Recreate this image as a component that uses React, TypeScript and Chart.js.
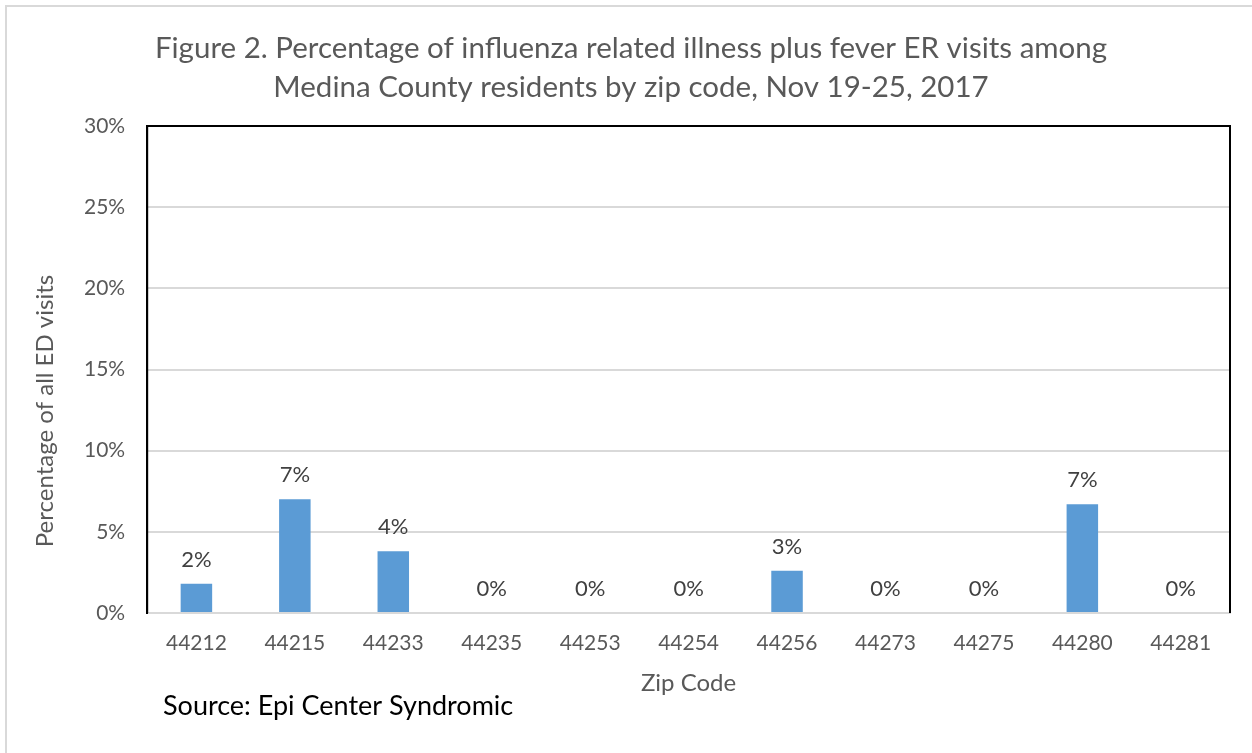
import React, { useEffect, useRef } from "react";
import { Chart, registerables } from "chart.js";

Chart.register(...registerables);

const zipCodes = ["44212", "44215", "44233", "44235", "44253", "44254", "44256", "44273", "44275", "44280", "44281"];
const percentValues = [1.8, 7.0, 3.8, 0, 0, 0, 2.6, 0, 0, 6.7, 0];
const valueLabels = ["2%", "7%", "4%", "0%", "0%", "0%", "3%", "0%", "0%", "7%", "0%"];
const titleLines = [
  "Figure 2. Percentage of influenza related illness plus fever ER visits among",
  "Medina County residents by zip code, Nov 19-25, 2017",
];
const yAxisTitle = "Percentage of all ED visits";
const xAxisTitle = "Zip Code";
const sourceText = "Source: Epi Center Syndromic";

const FONT = "Lato, 'Open Sans', sans-serif";

const frame = {
  id: "frame",
  afterDatasetsDraw(chart: any) {
    const { ctx, chartArea } = chart;
    const { left, right, top, bottom } = chartArea;
    ctx.save();
    ctx.strokeStyle = "#000";
    ctx.lineWidth = 2;
    ctx.beginPath();
    ctx.moveTo(left, bottom);
    ctx.lineTo(left, top);
    ctx.lineTo(right, top);
    ctx.lineTo(right, bottom);
    ctx.stroke();
    const meta = chart.getDatasetMeta(0);
    ctx.fillStyle = "#404040";
    ctx.font = `22px ${FONT}`;
    ctx.textAlign = "center";
    ctx.textBaseline = "bottom";
    meta.data.forEach((el: any, i: number) => {
      ctx.fillText(valueLabels[i], el.x, el.y - 13);
    });
    // title
    ctx.fillStyle = "#595959";
    ctx.font = `29.5px ${FONT}`;
    ctx.textAlign = "center";
    ctx.textBaseline = "middle";
    ctx.fillText(titleLines[0], 631, 48);
    ctx.fillText(titleLines[1], 631, 87);
    // y axis title
    ctx.font = `24px ${FONT}`;
    ctx.save();
    ctx.translate(45, 411);
    ctx.rotate(-Math.PI / 2);
    ctx.fillText(yAxisTitle, 0, 0);
    ctx.restore();
    // source
    ctx.fillStyle = "#000";
    ctx.font = `27px ${FONT}`;
    ctx.textAlign = "left";
    ctx.textBaseline = "middle";
    ctx.fillText(sourceText, 163, 706);
    ctx.restore();
  },
};

export default function App() {
  const ref = useRef<HTMLCanvasElement>(null);
  useEffect(() => {
    document.body.style.margin = "0";
    const chart = new Chart(ref.current!, {
      type: "bar",
      data: {
        labels: zipCodes,
        datasets: [
          {
            data: percentValues,
            backgroundColor: "#5b9bd5",
            barPercentage: 0.32,
            categoryPercentage: 1,
          },
        ],
      },
      options: {
        animation: false,
        responsive: false,
        layout: { padding: { left: 62, right: 22, top: 126, bottom: 55 } },
        plugins: {
          legend: { display: false },
          tooltip: { enabled: false },
          title: { display: false },
        },
        scales: {
          x: {
            grid: { display: false },
            border: { color: "#d9d9d9", width: 2 },
            ticks: { color: "#595959", font: { family: FONT, size: 21 }, padding: 10 },
            title: {
              display: true,
              text: xAxisTitle,
              color: "#595959",
              font: { family: FONT, size: 24 },
              padding: { top: 3, bottom: 0 },
            },
          },
          y: {
            min: 0,
            max: 30,
            ticks: {
              stepSize: 5,
              color: "#595959",
              font: { family: FONT, size: 21 },
              padding: 22,
              callback: (v: any) => v + "%",
            },
            grid: { color: "#d9d9d9", lineWidth: 2, drawTicks: false },
            border: { color: "#000", width: 2 },
          },
        },
      },
      plugins: [frame],
    });
    return () => chart.destroy();
  }, []);
  return (
    <div style={{ position: "relative", width: 1252, height: 753, background: "#fff" }}>
      <div
        style={{
          position: "absolute",
          left: 5,
          top: 5,
          right: 0,
          bottom: 0,
          borderLeft: "2px solid #d9d9d9",
          borderTop: "2px solid #d9d9d9",
          pointerEvents: "none",
        }}
      />
      <canvas ref={ref} width={1252} height={753} style={{ position: "absolute", left: 0, top: 0 }} />
    </div>
  );
}
